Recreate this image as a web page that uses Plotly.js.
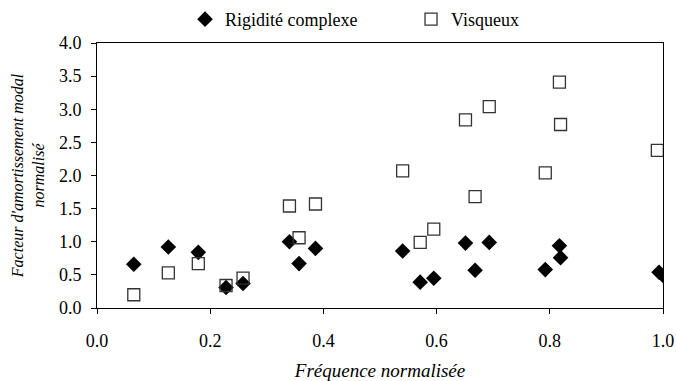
<!DOCTYPE html>
<html>
<head>
<meta charset="utf-8">
<script src="https://cdn.plot.ly/plotly-3.0.1.min.js"></script>
<style>html,body{margin:0;padding:0;background:#fff;}#chart{width:676px;height:381px;}</style>
</head>
<body>
<div id="chart"></div>
<script>
const rigX = [0.065, 0.126, 0.179, 0.228, 0.258, 0.340, 0.357, 0.386, 0.540, 0.571, 0.595, 0.651, 0.668, 0.693, 0.792, 0.817, 0.819, 0.993, 1.0];
const rigY = [0.66, 0.92, 0.84, 0.31, 0.37, 1.00, 0.67, 0.90, 0.86, 0.39, 0.45, 0.98, 0.57, 0.99, 0.58, 0.94, 0.76, 0.54, 0.49];
const visX = [0.065, 0.126, 0.179, 0.228, 0.258, 0.340, 0.357, 0.386, 0.540, 0.571, 0.595, 0.651, 0.668, 0.693, 0.792, 0.817, 0.819, 0.990];
const visY = [0.20, 0.53, 0.67, 0.34, 0.45, 1.54, 1.06, 1.57, 2.07, 0.99, 1.19, 2.84, 1.68, 3.04, 2.04, 3.41, 2.77, 2.38];
const names = ["Rigidité complexe", "Visqueux"];
const xTitle = "Fréquence normalisée";
const yTitle = "Facteur d'amortissement modal<br>normalisé";

const serif = "Times New Roman";
const traces = [
  {x: rigX, y: rigY, name: names[0], type: "scatter", mode: "markers",
   marker: {symbol: "diamond", size: 12, color: "#000", line: {width: 0}}},
  {x: visX, y: visY, name: names[1], type: "scatter", mode: "markers",
   marker: {symbol: "square-open", size: 12, color: "#333", line: {width: 1.3}}}
];
const layout = {
  width: 676, height: 381,
  margin: {l: 97, r: 13, t: 43, b: 73},
  paper_bgcolor: "#fff", plot_bgcolor: "#fff",
  font: {family: serif, size: 18, color: "#000"},
  showlegend: true,
  legend: {orientation: "h", x: 0.2737, xanchor: "left", y: 0.949, yanchor: "middle",
           xref: "container", yref: "container", font: {family: serif, size: 18, color: "#000"},
           itemwidth: 30, entrywidthmode: "pixels", entrywidth: 181},
  xaxis: {range: [0, 1.0], tickvals: [0, 0.2, 0.4, 0.6, 0.8, 1.0], ticktext: ["0.0","0.2","0.4","0.6","0.8","1.0"],
          showgrid: false, zeroline: false, showline: true, linecolor: "#000", linewidth: 1, mirror: true,
          ticks: "outside", ticklen: 5, tickcolor: "#000", ticklabelstandoff: 11,
          tickfont: {family: serif, size: 18},
          title: {text: xTitle, font: {family: serif, size: 19, style: "italic"}, standoff: 14}},
  yaxis: {range: [0, 4.0], tickvals: [0,0.5,1,1.5,2,2.5,3,3.5,4], ticktext: ["0.0","0.5","1.0","1.5","2.0","2.5","3.0","3.5","4.0"],
          showgrid: false, zeroline: false, showline: true, linecolor: "#000", linewidth: 1, mirror: true,
          ticks: "outside", ticklen: 5, tickcolor: "#000", ticklabelstandoff: 6,
          tickfont: {family: serif, size: 18},
          title: {text: yTitle, font: {family: serif, size: 16, style: "italic"}, standoff: 10}}
};
Plotly.newPlot("chart", traces, layout, {displayModeBar: false, staticPlot: true});
</script>
</body>
</html>
